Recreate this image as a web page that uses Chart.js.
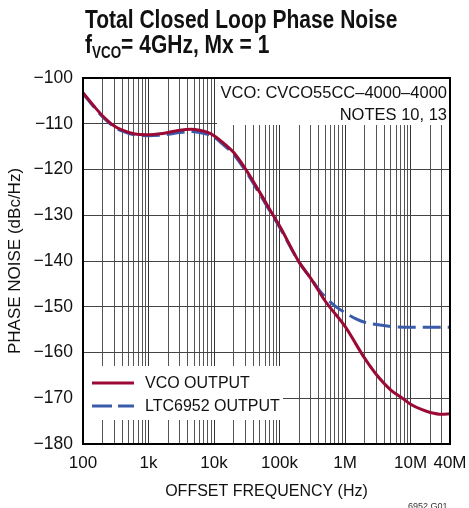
<!DOCTYPE html>
<html>
<head>
<meta charset="utf-8">
<script src="https://cdn.jsdelivr.net/npm/chart.js@4"></script>
<style>
  body { margin: 0; background: #fff; }
  #wrap { position: relative; width: 469px; height: 508px; overflow: hidden; }
  #title { position: absolute; left: 85px; top: 7px; font-family: "Liberation Sans", Arial, sans-serif; white-space: nowrap;
           font-weight: bold; font-size: 25px; line-height: 25px; color: #111; transform: scaleX(0.84); transform-origin: 0 0; }
  #title sub { font-size: 16px; vertical-align: -5px; line-height: 0; }
  #code { position: absolute; left: 408px; top: 501px; font-family: "Liberation Sans", sans-serif; font-size: 9px; color: #333; }
</style>
</head>
<body>
<div id="wrap">
  <canvas id="pnChart" width="469" height="508"></canvas>
  <div id="title">Total Closed Loop Phase Noise<br>f<sub>VCO</sub>= 4GHz, Mx = 1</div>
  <div id="code">6952 G01</div>
</div>
<script>
const ctx = document.getElementById('pnChart').getContext('2d');

// VCO output curve
const vcoFreq  = [100, 150, 200, 300, 400, 600, 1e3, 1.5e3, 2e3, 3e3, 4.5e3, 6e3, 8e3, 1e4, 1.5e4, 2e4, 3e4, 5e4, 8e4, 1e5, 2e5, 3e5, 5e5, 1e6, 2e6, 3e6, 5e6, 7.5e6, 1e7, 1.5e7, 2e7, 3e7, 4e7];
const vcoNoise = [-103.2, -106.3, -108.3, -110.5, -111.4, -112.2, -112.4, -112.2, -111.9, -111.4, -111.2, -111.4, -111.9, -112.6, -114.6, -116.3, -119.8, -125, -130, -132.3, -140.3, -143.8, -148.8, -154.3, -161.3, -164.8, -168.2, -170, -171.3, -172.5, -173.1, -173.5, -173.4];

// LTC6952 output curve
const ltcFreq  = [100, 150, 200, 300, 400, 600, 1e3, 1.5e3, 2e3, 3e3, 4.5e3, 6e3, 8e3, 1e4, 1.5e4, 2e4, 3e4, 5e4, 8e4, 1e5, 2e5, 3e5, 4e5, 5e5, 7e5, 1e6, 1.5e6, 2e6, 3e6, 5e6, 1e7, 2e7, 4e7];
const ltcNoise = [-103.4, -106.5, -108.5, -110.7, -111.6, -112.4, -112.6, -112.5, -112.3, -111.9, -111.7, -111.9, -112.3, -112.9, -115, -116.7, -120.2, -125.4, -130.3, -132.6, -140.3, -143.8, -146.3, -147.9, -149.8, -151.3, -152.7, -153.4, -153.9, -154.3, -154.5, -154.5, -154.5];

// axis ticks
const xTicks = [];
for (let d = 100; d < 1e7; d *= 10) {
        for (let m = 1; m < 10; m++) xTicks.push(d * m);
}
xTicks.push(1e7, 2e7, 3e7, 4e7);
const xLabels = { 100: '100', 1000: '1k', 10000: '10k', 100000: '100k', 1000000: '1M', 10000000: '10M', 40000000: '40M' };
const yTicks = [-180, -170, -160, -150, -140, -130, -120, -110, -100];

const font = "'Liberation Sans', Arial, sans-serif";

const boxes = {
        id: 'boxes',
        beforeDatasetsDraw(chart) {
                const c = chart.ctx;
                const a = chart.chartArea;
                c.save();
                c.fillStyle = '#fff';
                c.fillRect(217, a.top + 1, a.right - 218, 46);
                c.fillRect(a.left + 1, 366, 199, 54);
                c.restore();
        },
        afterDatasetsDraw(chart) {
                const c = chart.ctx;
                const a = chart.chartArea;
                c.save();
                // frame
                c.strokeStyle = '#000';
                c.lineWidth = 2;
                c.strokeRect(a.left, a.top, a.right - a.left, a.bottom - a.top);
                // note
                c.fillStyle = '#111';
                c.font = '16.5px ' + font;
                c.textAlign = 'right';
                c.textBaseline = 'alphabetic';
                c.fillText('VCO: CVCO55CC\u20134000\u20134000', a.right - 3, 98);
                c.fillText('NOTES 10, 13', a.right - 3, 120);
                // legend
                c.font = '16px ' + font;
                c.textAlign = 'left';
                c.textBaseline = 'middle';
                c.lineWidth = 3;
                c.strokeStyle = '#9b0a34';
                c.beginPath(); c.moveTo(92, 383); c.lineTo(134, 383); c.stroke();
                c.strokeStyle = '#3a5aaa';
                c.setLineDash([20, 6]);
                c.beginPath(); c.moveTo(92, 406); c.lineTo(134, 406); c.stroke();
                c.setLineDash([]);
                c.fillText('VCO OUTPUT', 145, 384);
                c.fillText('LTC6952 OUTPUT', 145, 407);
                c.restore();
        }
};

const config = {
        type: 'line',
        data: {
                datasets: [{
                        label: 'VCO OUTPUT',
                        data: vcoFreq.map((f, i) => ({ x: f, y: vcoNoise[i] })),
                        borderColor: '#9b0a34',
                        borderWidth: 3,
                        pointRadius: 0,
                        cubicInterpolationMode: 'monotone',
                },
                {
                        label: 'LTC6952 OUTPUT',
                        data: ltcFreq.map((f, i) => ({ x: f, y: ltcNoise[i] })),
                        borderColor: '#3a5aaa',
                        borderWidth: 3,
                        borderDash: [18, 7],
                        pointRadius: 0,
                        cubicInterpolationMode: 'monotone',
                }],
        },
        options: {
                responsive: false,
                animation: false,
                layout: { padding: { top: 78, right: 19, bottom: 0, left: 0 } },
                plugins: { legend: { display: false }, tooltip: { enabled: false } },
                scales: {
                        x: {
                                type: 'logarithmic',
                                min: 100,
                                max: 4e7,
                                afterBuildTicks: (s) => { s.ticks = xTicks.map(v => ({ value: v })); },
                                afterFit: (s) => { s.height = 64; s.paddingLeft = 0; s.paddingRight = 0; },
                                grid: {
                                        drawTicks: false,
                                        color: (c) => (xLabels[c.tick && c.tick.value] ? '#333' : '#555'),
                                        lineWidth: 1,
                                },
                                border: { color: '#000', width: 2 },
                                ticks: {
                                        autoSkip: false,
                                        maxRotation: 0,
                                        padding: 9,
                                        color: '#111',
                                        font: { family: font, size: 17 },
                                        callback: (v) => xLabels[v] || '',
                                },
                                title: {
                                        display: true,
                                        text: 'OFFSET FREQUENCY (Hz)',
                                        color: '#111',
                                        font: { family: font, size: 16 },
                                        padding: { top: 0, bottom: 7 },
                                },
                        },
                        y: {
                                min: -180,
                                max: -100,
                                afterBuildTicks: (s) => { s.ticks = yTicks.map(v => ({ value: v })); },
                                afterFit: (s) => { s.width = 83; },
                                grid: { drawTicks: false, color: '#444', lineWidth: 1 },
                                border: { color: '#000', width: 2 },
                                ticks: {
                                        padding: 10,
                                        color: '#111',
                                        font: { family: font, size: 17.5 },
                                        callback: (v) => '\u2212' + Math.abs(v),
                                },
                                title: {
                                        display: true,
                                        text: 'PHASE NOISE (dBc/Hz)',
                                        color: '#111',
                                        font: { family: font, size: 17 },
                                        padding: { top: 5, bottom: 0 },
                                },
                        },
                },
        },
        plugins: [boxes],
};

const pnChart = new Chart(ctx, config);
</script>
</body>
</html>
